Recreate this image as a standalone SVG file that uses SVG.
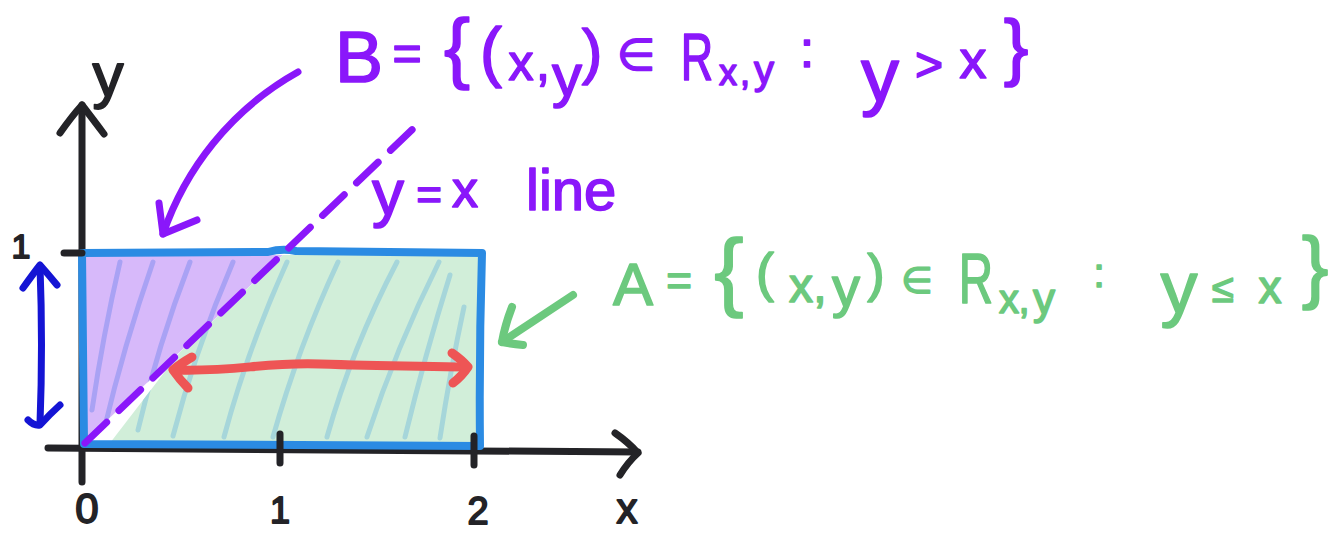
<svg xmlns="http://www.w3.org/2000/svg" width="1337" height="533" viewBox="0 0 1337 533">
<style>
text{font-family:"Liberation Sans",Arial,"DejaVu Sans",sans-serif;text-anchor:middle;stroke-linejoin:round;paint-order:stroke}
.pt{fill:#8A17FA;stroke:#8A17FA;stroke-width:1.6}
.gt{fill:#6CC97E;stroke:#6CC97E;stroke-width:1.6}
.kt{fill:#232327;stroke:#232327;stroke-width:1.8}
.ln{fill:none;stroke-linecap:round;stroke-linejoin:round}
.blk{stroke:#232327;stroke-width:7}
.hp{stroke:#A9A2F4;stroke-width:5}
.hg{stroke:#A6D6DA;stroke-width:5}
.st{text-anchor:start}
</style>
<defs>
<clipPath id="cpP"><polygon points="84,255 283,255 84,442"/></clipPath>
<clipPath id="cpG"><polygon points="110,443 180,352 283,255 480,255 480,445 110,445"/></clipPath>
</defs>

<g id="region">
<polygon points="84,255 283,255 84,442" fill="#D7B9FA"/>
<polygon points="110,443 180,352 283,255 480,255 480,445 110,445" fill="#D1EED9"/>
<g id="hatch-purple" class="ln hp" clip-path="url(#cpP)">
<path d="M92,410 Q103,335 120,262"/>
<path d="M104,430 Q124,345 153,262"/>
<path d="M138,430 Q158,345 190,262"/>
<path d="M173,436 Q196,348 233,262"/>
</g>
<g id="hatch-green" class="ln hg" clip-path="url(#cpG)">
<path d="M138,430 Q158,345 190,262"/>
<path d="M173,436 Q196,348 233,262"/>
<path d="M224,437 Q248,348 287,262"/>
<path d="M273,437 Q298,348 338,262"/>
<path d="M327,437 Q352,348 397,262"/>
<path d="M367,437 Q396,348 439,262"/>
<path d="M405,437 Q425,355 450,275"/>
<path d="M440,438 Q450,372 464,307"/>
</g>
</g>

<g id="axes" class="ln blk">
<path d="M82,105 L82,482"/>
<path d="M60,133 Q72,116 82,105 Q92,118 104,134"/>
<path d="M48,448 L638,452"/>
<path d="M615,433 Q628,442 638,453 Q628,462 620,475"/>
</g>

<g id="rect">
<path class="ln" d="M82,253 L268,252 Q282,248 296,251 L482,253 Q479,350 480,446 L84,444 Z" stroke="#2B8BE3" stroke-width="8"/>
</g>

<g id="ticks" class="ln blk">
<path d="M280,434 L280,463"/>
<path d="M474,436 L474,465"/>
<path d="M64,253 L82,253"/>
</g>

<g id="yx-line">
<path class="ln" d="M85,443 L418,124" stroke="#8A17FA" stroke-width="7" stroke-dasharray="30 17"/>
</g>

<g id="connectors" class="ln">
<path d="M298,72 C230,110 185,170 163,234" stroke="#8A17FA" stroke-width="7"/>
<path d="M159,203 L163,234 L197,220" stroke="#8A17FA" stroke-width="7"/>
<path d="M573,295 L502,342" stroke="#6CC97E" stroke-width="8"/>
<path d="M512,307 Q505,325 502,342 Q512,344 523,345" stroke="#6CC97E" stroke-width="8"/>
<path d="M40,266 Q43,345 40,424" stroke="#1414D4" stroke-width="7"/>
<path d="M23,288 Q33,274 40,265 Q48,274 57,285" stroke="#1414D4" stroke-width="7"/>
<path d="M28,420 Q34,426 40,425 Q50,414 60,405" stroke="#1414D4" stroke-width="7"/>
<path d="M174,370 C240,372 260,362 320,364 C380,366 420,366 466,367" stroke="#EE5555" stroke-width="9"/>
<path d="M192,357 Q180,364 173,370 Q180,380 188,388" stroke="#EE5555" stroke-width="9"/>
<path d="M452,353 Q462,360 468,367 Q462,376 453,383" stroke="#EE5555" stroke-width="9"/>
</g>

<g id="axis-labels">
<text class="kt" x="108" y="96" font-size="62">y</text>
<text class="kt" x="21" y="258" font-size="34">1</text>
<text class="kt" x="87" y="523" font-size="42">0</text>
<text class="kt" x="280" y="523" font-size="36">1</text>
<text class="kt" x="478" y="524" font-size="38">2</text>
<text class="kt" x="627" y="523" font-size="42">x</text>
</g>

<g id="label-yx">
<text class="pt" x="388" y="215" font-size="64">y</text>
<text class="pt" x="429" y="210" font-size="44">=</text>
<text class="pt" x="465" y="207" font-size="52">x</text>
<text class="pt st" x="526" y="210" font-size="58">line</text>
</g>

<g id="label-B">
<text class="pt" x="359" y="82" font-size="72">B</text>
<text class="pt" x="407" y="70" font-size="50">=</text>
<text class="pt" x="457" y="74" font-size="78">{</text>
<text class="pt" x="491" y="74" font-size="66">(</text>
<text class="pt" x="521" y="80" font-size="50">x</text>
<text class="pt" x="543" y="80" font-size="50">,</text>
<text class="pt" x="567" y="96" font-size="60">y</text>
<text class="pt" x="592" y="72" font-size="62">)</text>
<text class="pt" x="636" y="70" font-size="44">∈</text>
<text class="pt" transform="translate(697,80) scale(0.68,1)" x="0" y="0" font-size="66">R</text>
<text class="pt" x="728" y="85" font-size="36">x</text>
<text class="pt" x="745" y="85" font-size="36">,</text>
<text class="pt" x="764" y="84" font-size="40">y</text>
<text class="pt" x="807" y="67" font-size="52">:</text>
<text class="pt" x="880" y="101" font-size="76">y</text>
<text class="pt" x="929" y="81" font-size="48">&gt;</text>
<text class="pt" x="973" y="78" font-size="54">x</text>
<text class="pt" x="1016" y="72" font-size="74">}</text>
</g>

<g id="label-A">
<text class="gt" x="633" y="305" font-size="60">A</text>
<text class="gt" x="679" y="296" font-size="44">=</text>
<text class="gt" x="729" y="300" font-size="88">{</text>
<text class="gt" x="765" y="291" font-size="54">(</text>
<text class="gt" x="801" y="302" font-size="48">x</text>
<text class="gt" x="820" y="302" font-size="48">,</text>
<text class="gt" x="846" y="306" font-size="56">y</text>
<text class="gt" x="876" y="291" font-size="52">)</text>
<text class="gt" x="917" y="293" font-size="36">∈</text>
<text class="gt" transform="translate(976,303) scale(0.68,1)" x="0" y="0" font-size="70">R</text>
<text class="gt" x="1009" y="313" font-size="40">x</text>
<text class="gt" x="1024" y="313" font-size="40">,</text>
<text class="gt" x="1044" y="314" font-size="44">y</text>
<text class="gt" x="1099" y="287" font-size="40">:</text>
<text class="gt" x="1179" y="313" font-size="74">y</text>
<text class="gt" x="1223" y="302" font-size="40">≤</text>
<text class="gt" x="1270" y="303" font-size="46">x</text>
<text class="gt" x="1315" y="293" font-size="80">}</text>
</g>
</svg>
